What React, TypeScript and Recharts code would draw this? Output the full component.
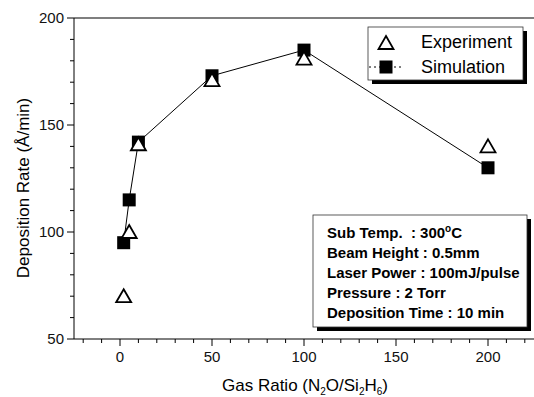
import { ScatterChart, Scatter, XAxis, YAxis, Customized } from "recharts";

const ratios = [2, 5, 10, 50, 100, 200];
const experiment = [70, 100, 141, 171, 181, 140];
const simulation = [95, 115, 142, 173, 185, 130];

const xTicks = [-20, -10, 0, 10, 20, 30, 40, 50, 60, 70, 80, 90, 100, 110, 120, 130, 140, 150, 160, 170, 180, 190, 200, 210, 220];
const yTicks = [50, 60, 70, 80, 90, 100, 110, 120, 130, 140, 150, 160, 170, 180, 190, 200];

const conditions = [
  "Sub Temp.\u00a0\u00a0: 300",
  "Beam Height : 0.5mm",
  "Laser Power : 100mJ/pulse",
  "Pressure : 2 Torr",
  "Deposition Time : 10 min",
];

const expData = ratios.map((x, i) => ({ x, y: experiment[i] }));
const simData = ratios.map((x, i) => ({ x, y: simulation[i] }));

const font = "'Liberation Sans', Arial, sans-serif";

function Triangle(props: any) {
  const { cx, cy } = props;
  if (cx == null || cy == null) return null;
  return (
    <path
      d={`M${cx},${cy - 7} L${cx + 7.5},${cy + 6} L${cx - 7.5},${cy + 6} Z`}
      fill="#fff"
      stroke="#000"
      strokeWidth={1.8}
    />
  );
}

function Square(props: any) {
  const { cx, cy } = props;
  if (cx == null || cy == null) return null;
  return <rect x={cx - 6.5} y={cy - 6.5} width={13} height={13} fill="#000" />;
}

function XTick(props: any) {
  const { x, y, payload } = props;
  const major = payload.value % 50 === 0;
  return (
    <g>
      <line x1={x} x2={x} y1={y} y2={y + (major ? 7 : 4)} stroke="#000" strokeWidth={1} />
      {major && (
        <text x={x} y={y + 23} textAnchor="middle" fontSize={15} fontFamily={font} fill="#111">
          {payload.value}
        </text>
      )}
    </g>
  );
}

function YTick(props: any) {
  const { x, y, payload } = props;
  const major = payload.value % 50 === 0;
  return (
    <g>
      <line x1={x} x2={x - (major ? 7 : 4)} y1={y} y2={y} stroke="#000" strokeWidth={1} />
      {major && (
        <text x={x - 10} y={y + 5} textAnchor="end" fontSize={15} fontFamily={font} fill="#111">
          {payload.value}
        </text>
      )}
    </g>
  );
}

function Boxes() {
  return (
    <g fontFamily={font} fill="#000">
      {/* top frame */}
      <line x1={74} x2={534} y1={18} y2={18} stroke="#000" strokeWidth={1.2} />

      {/* legend */}
      <rect x={372} y={31} width={155} height={53} fill="#000" />
      <rect x={368} y={27} width={155} height={53} fill="#fff" stroke="#333" strokeWidth={0.8} />
      <Triangle cx={386} cy={43} />
      <text x={421} y={48} fontSize={18}>Experiment</text>
      <line x1={369} x2={402} y1={67} y2={67} stroke="#000" strokeWidth={1} strokeDasharray="2 3" />
      <Square cx={386} cy={67} />
      <text x={421} y={73} fontSize={18}>Simulation</text>

      {/* conditions box */}
      <rect x={317} y={219} width={214} height={112} fill="#000" />
      <rect x={313} y={215} width={214} height={112} fill="#fff" stroke="#333" strokeWidth={0.8} />
      {conditions.map((c, i) => (
        <text key={c} x={327} y={238 + i * 20} fontSize={15} fontWeight="bold">
          {c}
          {i === 0 && (
            <>
              <tspan dy={-6} fontSize={10}>o</tspan>
              <tspan dy={6}>C</tspan>
            </>
          )}
        </text>
      ))}

      {/* axis titles */}
      <text x={305} y={391} textAnchor="middle" fontSize={17}>
        Gas Ratio (N<tspan dy={4} fontSize={10}>2</tspan>
        <tspan dy={-4}>O/Si</tspan>
        <tspan dy={4} fontSize={10}>2</tspan>
        <tspan dy={-4}>H</tspan>
        <tspan dy={4} fontSize={10}>6</tspan>
        <tspan dy={-4}>)</tspan>
      </text>
      <text x={29} y={188} textAnchor="middle" fontSize={17} transform="rotate(-90 29 188)">
        Deposition Rate (Å/min)
      </text>
    </g>
  );
}

export default function App() {
  return (
    <div style={{ position: "absolute", left: 0, top: 0, width: 534, height: 397, background: "#fff" }}>
      <ScatterChart width={534} height={397} margin={{ top: 18, right: 0, left: 0, bottom: 0 }}>
        <XAxis
          type="number"
          dataKey="x"
          domain={[-25, 225]}
          ticks={xTicks}
          interval={0}
          height={58}
          tickSize={0}
          tickMargin={0}
          tickLine={false}
          tick={<XTick />}
          stroke="#000"
          allowDataOverflow
        />
        <YAxis
          type="number"
          dataKey="y"
          domain={[50, 200]}
          ticks={yTicks}
          interval={0}
          width={74}
          tickSize={0}
          tickMargin={0}
          tickLine={false}
          tick={<YTick />}
          stroke="#000"
          allowDataOverflow
        />
        <Scatter
          data={simData}
          line={{ stroke: "#000", strokeWidth: 1 }}
          shape={<Square />}
          isAnimationActive={false}
        />
        <Scatter data={expData} shape={<Triangle />} isAnimationActive={false} />
        <Customized component={<Boxes />} />
      </ScatterChart>
    </div>
  );
}
